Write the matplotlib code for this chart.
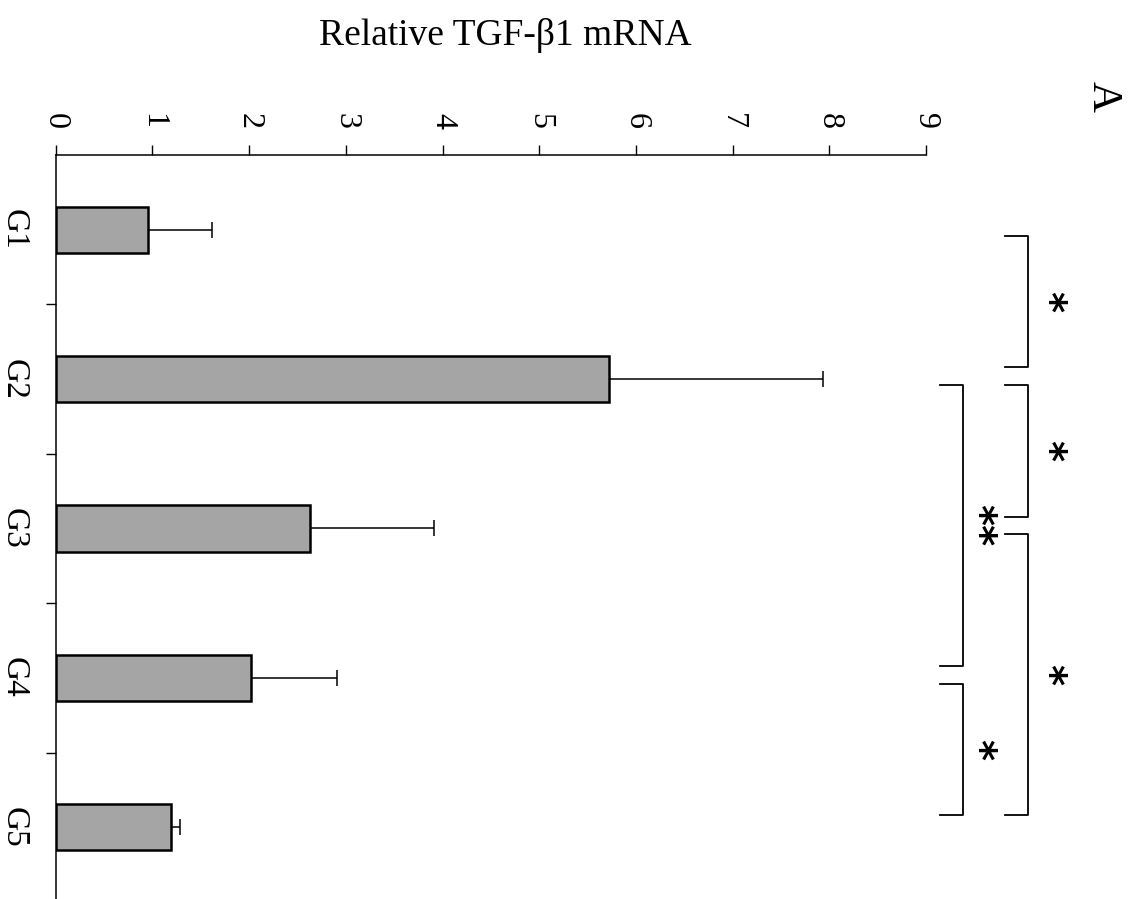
import matplotlib
matplotlib.use("Agg")
from matplotlib import pyplot as plt

plt.rcParams["font.family"] = ["Liberation Serif", "DejaVu Serif"]

# group names, mean expression and upper error (SD)
groups = ["G1", "G2", "G3", "G4", "G5"]
means = [0.95, 5.72, 2.63, 2.02, 1.19]
errors = [0.67, 2.21, 1.28, 0.89, 0.10]

# significance comparisons: (group a, group b, stars, bracket level)
comparisons = [
    ("G1", "G2", "*", "outer"),
    ("G2", "G3", "*", "outer"),
    ("G2", "G4", "**", "inner"),
    ("G3", "G5", "*", "outer"),
    ("G4", "G5", "*", "inner"),
]

value_ticks = list(range(0, 10))

fig = plt.figure(figsize=(11.28, 8.99), dpi=100)
ax = fig.add_axes([0.0494, -0.0033, 0.7715, 0.8309])

pos = list(range(len(groups)))
ax.barh(pos, means, height=0.31, color="#a5a5a5", edgecolor="black",
        linewidth=1.8, zorder=2)
ax.errorbar(means, pos, xerr=[[0] * len(errors), errors], fmt="none",
            ecolor="black", elinewidth=1.1, capsize=6, capthick=1.1, zorder=1)

ax.set_xlim(0, 9)
ax.set_ylim(len(groups) - 0.5, -0.5)

# value axis on top, labels turned like the rest of the figure
ax.xaxis.set_ticks_position("top")
ax.set_xticks(value_ticks)
ax.set_xticklabels([str(v) for v in value_ticks], rotation=-90, fontsize=23)
ax.tick_params(axis="x", direction="out", length=7, width=1.0, pad=12)

# category axis: ticks between groups, labels centred on bars
ax.set_yticks([p + 0.5 for p in pos])
ax.set_yticklabels([])
ax.set_yticks(pos, minor=True)
ax.set_yticklabels(groups, minor=True, rotation=-90, fontsize=24,
                   va="center")
ax.tick_params(axis="y", which="major", direction="out", length=7, width=1.0)
ax.tick_params(axis="y", which="minor", length=0, pad=19)

for side in ["right", "bottom"]:
    ax.spines[side].set_visible(False)
for side in ["left", "top"]:
    ax.spines[side].set_linewidth(1.1)

# significance brackets to the right of the plot
levels = {"outer": (10.05, 9.82, 10.25), "inner": (9.38, 9.15, 9.53)}
for a, b, stars, level in comparisons:
    i, j = groups.index(a), groups.index(b)
    y0, y1 = i + 0.04, j - 0.08
    xv, xa, xs = levels[level]
    ax.plot([xa, xv, xv, xa], [y0, y0, y1, y1], color="black", lw=1.3,
            clip_on=False, solid_joinstyle="round")
    ax.text(xs, (y0 + y1) / 2, stars, rotation=-90, ha="center", va="center",
            fontsize=29, family="DejaVu Sans", fontweight="bold",
            clip_on=False)

fig.text(0.448, 0.961, "Relative TGF-\u03b21 mRNA", ha="center", va="center",
         fontsize=27)
fig.text(0.978, 0.893, "A", rotation=-90, ha="center", va="center",
         fontsize=31)

fig.savefig("out.png", dpi=100)
